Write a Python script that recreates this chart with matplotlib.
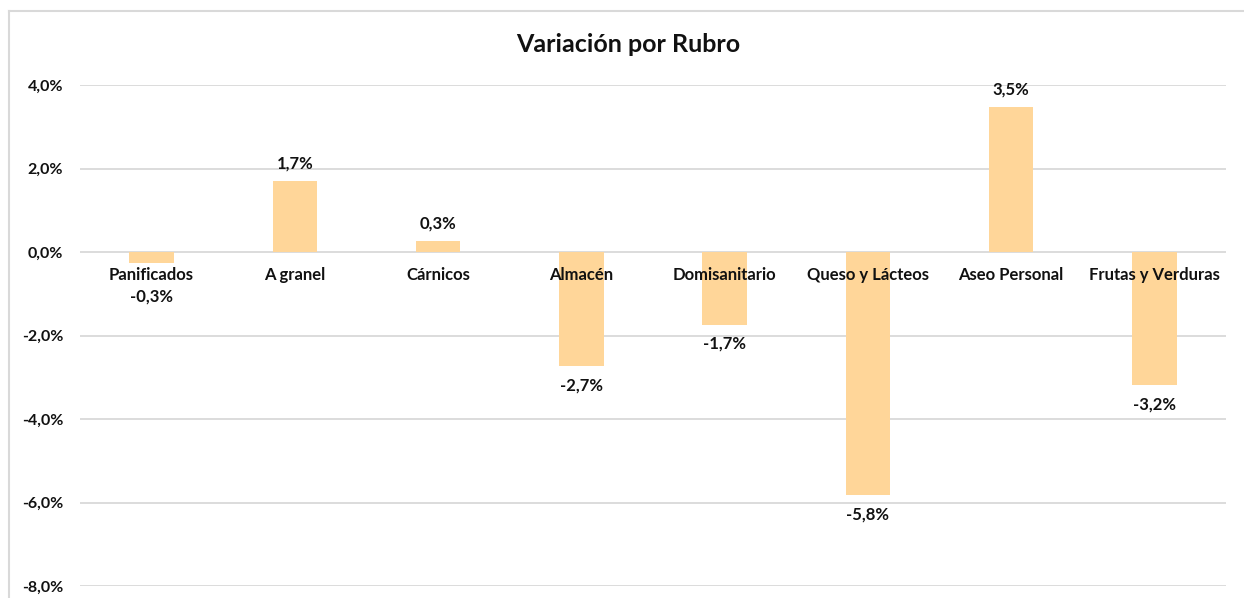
import matplotlib.pyplot as plt
from matplotlib.ticker import FuncFormatter
import matplotlib.transforms as mtransforms

# -----------------------------
# Data
# -----------------------------
rubros = ["Panificados", "A granel", "Cárnicos", "Almacén", "Domisanitario",
          "Queso y Lácteos", "Aseo Personal", "Frutas y Verduras"]
variacion = [-0.26, 1.70, 0.26, -2.73, -1.74, -5.83, 3.47, -3.19]   # %
y_ticks = [-8, -6, -4, -2, 0, 2, 4]

bar_color = "#FFD699"
grid_color = "#D9D9D9"
text_color = "#111111"
plt.rcParams["font.family"] = ["Lato", "DejaVu Sans"]


def pct(v, pos=None):
    return f"{v:.1f}%".replace(".", ",")


fig = plt.figure(figsize=(12.44, 5.98), dpi=100)
ax = fig.add_axes([80 / 1244, 1 - 586 / 598, (1226 - 80) / 1244, (586 - 85) / 598])

x = list(range(len(rubros)))
ax.bar(x, variacion, width=0.31, color=bar_color, zorder=2)

ax.set_xlim(-0.5, len(rubros) - 0.5)
ax.set_ylim(-8, 4)
ax.set_yticks(y_ticks)
ax.yaxis.set_major_formatter(FuncFormatter(pct))
ax.tick_params(axis="y", length=0, pad=12, labelsize=11.5, labelcolor=text_color)
for lbl in ax.get_yticklabels():
    lbl.set_fontweight("bold")
ax.set_xticks([])
ax.grid(axis="y", color=grid_color, linewidth=1.3, zorder=0)
for s in ax.spines.values():
    s.set_visible(False)

# category labels sit just under the zero line
for i, name in enumerate(rubros):
    off = mtransforms.offset_copy(ax.transData, fig=fig, x=0, y=-11, units="points")
    ax.text(i, 0, name, transform=off, ha="center", va="top",
            fontsize=12, fontweight="bold", color=text_color)

# data labels (outside end), pushed below the category label if the bar is short
for i, v in enumerate(variacion):
    if v >= 0:
        off = mtransforms.offset_copy(ax.transData, fig=fig, x=0, y=7, units="points")
        ax.text(i, v, pct(v), transform=off, ha="center", va="bottom",
                fontsize=12, fontweight="bold", color=text_color)
    else:
        yv = min(v, -0.6)
        off = mtransforms.offset_copy(ax.transData, fig=fig, x=0, y=-8, units="points")
        ax.text(i, yv, pct(v), transform=off, ha="center", va="top",
                fontsize=12, fontweight="bold", color=text_color)

fig.text(628 / 1244, 1 - 45 / 598, "Variación por Rubro", ha="center", va="center",
         fontsize=18, fontweight="bold", color=text_color)

# chart border (top and left visible in the crop)
fig.add_artist(plt.Line2D([9 / 1244, 1], [1 - 11 / 598, 1 - 11 / 598],
                          transform=fig.transFigure, color=grid_color, linewidth=1.5))
fig.add_artist(plt.Line2D([9 / 1244, 9 / 1244], [0, 1 - 11 / 598],
                          transform=fig.transFigure, color=grid_color, linewidth=1.5))

fig.savefig("out.png", dpi=100)
